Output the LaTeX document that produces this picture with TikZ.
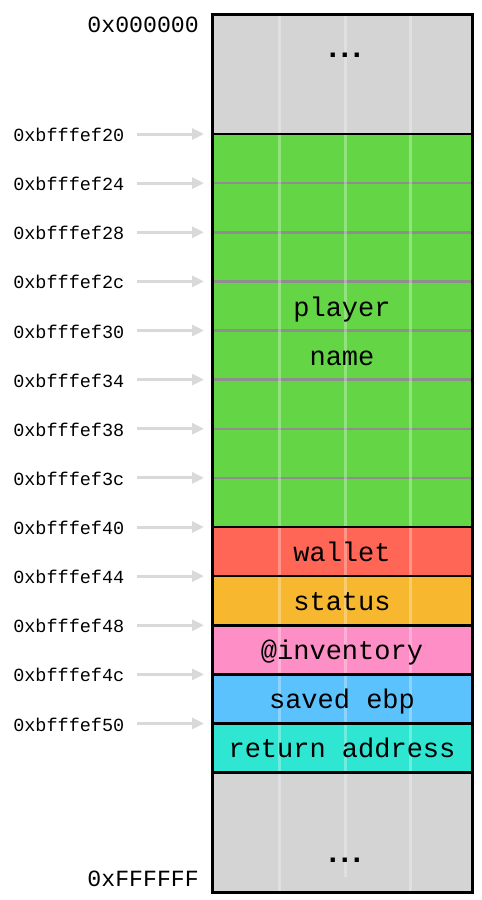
\documentclass[tikz,border=0pt]{standalone}
\usepackage{fontspec}
\setmonofont{Liberation Mono}
\usetikzlibrary{arrows.meta}
\definecolor{memgray}{HTML}{D4D4D4}
\definecolor{namegreen}{HTML}{64D646}
\definecolor{walletred}{HTML}{FF6655}
\definecolor{statusorange}{HTML}{F7B82F}
\definecolor{invpink}{HTML}{FE8EC6}
\definecolor{ebpblue}{HTML}{5BC2FE}
\definecolor{retteal}{HTML}{2FE6D3}
\definecolor{sepgray}{HTML}{8E8E8E}
\definecolor{arrowgray}{HTML}{D9D9D9}
\newcommand{\memdots}{.\kern-6pt.\kern-6pt.}
\begin{document}
\begin{tikzpicture}[x=1pt,y=-1pt,
  cell/.style={draw=none, inner sep=0pt, outer sep=0pt, minimum width=260pt, anchor=north west},
  celltext/.style={inner sep=0pt, anchor=base, font=\ttfamily\fontsize{27}{30}\selectfont},
  dotstext/.style={inner sep=0pt, anchor=base, font=\ttfamily\bfseries\fontsize{30}{32}\selectfont},
  biglabel/.style={inner sep=0pt, anchor=base east, font=\ttfamily\fontsize{23.2}{26}\selectfont},
  addrlabel/.style={inner sep=0pt, anchor=base east, font=\ttfamily\fontsize{18.5}{20}\selectfont},
  addrarrow/.style={draw=arrowgray, line width=3pt, -{Triangle[length=12pt,width=11pt]}},
  greensep/.style={draw=sepgray, line width=2.5pt},
  blacksep/.style={draw=black, line width=2.5pt},
  glow/.style={draw=white, draw opacity=0.3, line width=3pt}
]
\useasboundingbox (0,0) rectangle (482,900);

% memory cells
\node[cell, fill=memgray, minimum height=120pt] (topgap) at (212,14) {};
\node[cell, fill=namegreen, minimum height=393pt] (pname) at (212,134) {};
\node[cell, fill=walletred, minimum height=49.125pt] (wallet) at (212,527) {};
\node[cell, fill=statusorange, minimum height=49.125pt] (status) at (212,576.125) {};
\node[cell, fill=invpink, minimum height=49.125pt] (inventory) at (212,625.25) {};
\node[cell, fill=ebpblue, minimum height=49.125pt] (ebp) at (212,674.375) {};
\node[cell, fill=retteal, minimum height=49.125pt] (ret) at (212,723.5) {};
\node[cell, fill=memgray, minimum height=119.5pt] (botgap) at (212,772.625) {};

% word separators inside the name buffer
\foreach \k in {1,...,7}{
  \pgfmathsetmacro\yy{134+49.125*\k}
  \draw[greensep] (212,\yy) -- (472,\yy);
}

% vertical column guides
\draw[glow] (279,14) -- (279,892);
\draw[glow] (345,14) -- (345,877);
\draw[glow] (410,14) -- (410,892);

% black borders between cells
\foreach \n in {pname,wallet,status,inventory,ebp,ret,botgap}{
  \draw[blacksep] (\n.north west) -- (\n.north east);
}
\draw[line width=3pt] (topgap.north west) rectangle (botgap.south east);

% cell texts
\node[dotstext] (dtop) at (345,57.5) {\memdots};
\node[dotstext] (dbot) at (345,862) {\memdots};
\node[celltext] (tplayer) at (342,316.5) {player};
\node[celltext] (tname) at (342,365.5) {name};
\node[celltext] (twallet) at (342,561.5) {wallet};
\node[celltext] (tstatus) at (342,610.5) {status};
\node[celltext] (tinv) at (342,659.5) {@inventory};
\node[celltext] (tebp) at (342,708.5) {saved ebp};
\node[celltext] (tret) at (342,757) {return address};

% range labels
\node[biglabel] (lowaddr) at (199,32.3) {0x000000};
\node[biglabel] (highaddr) at (199,886.7) {0xFFFFFF};

% address labels and arrows
\foreach \lab [count=\k from 0] in {20,24,28,2c,30,34,38,3c,40,44,48,4c,50}{
  \pgfmathsetmacro\yy{134+49.125*\k}
  \node[addrlabel] (addr\k) at (124.5,\yy+7.5) {0xbfffef\lab};
  \coordinate (as\k) at (137,\yy);
  \coordinate (ae\k) at (204,\yy);
  \draw[addrarrow] (as\k) -- (ae\k);
}
\end{tikzpicture}
\end{document}
